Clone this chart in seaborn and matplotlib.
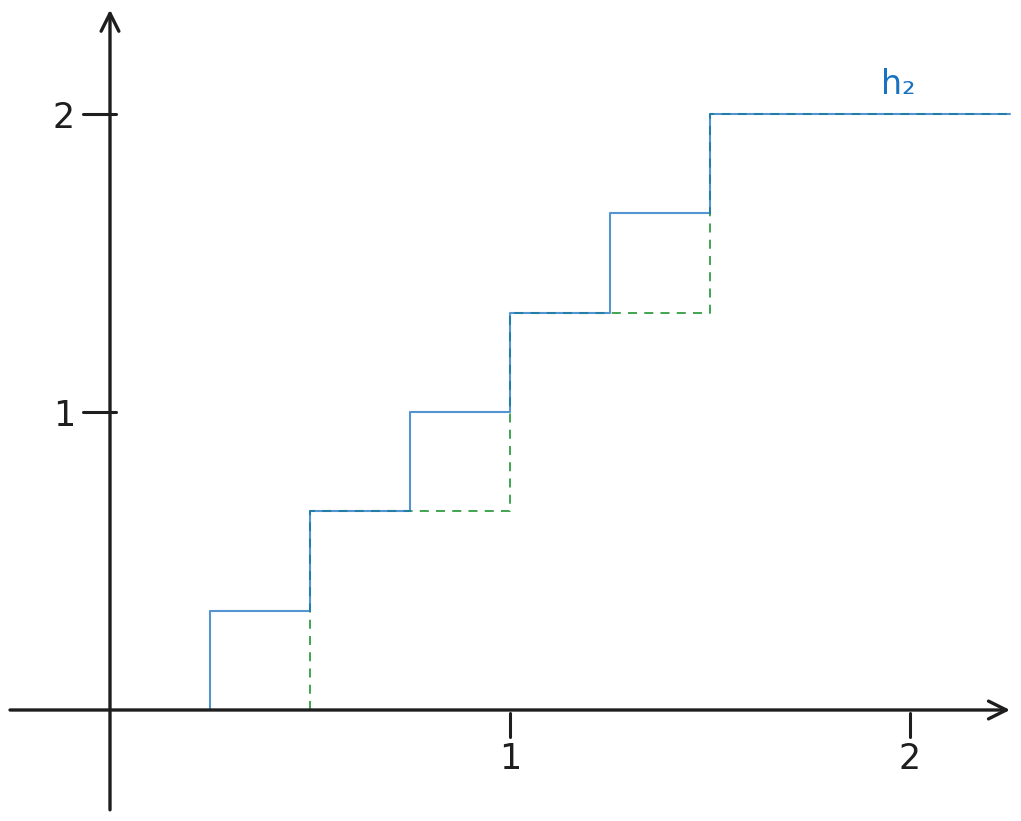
import numpy as np
import pandas as pd
import matplotlib
matplotlib.use("Agg")
import matplotlib.pyplot as plt
import seaborn as sns

# step function h2 (blue) and the coarser dashed step (green)
h2_x = [0, 0.25, 0.5, 0.75, 1.0, 1.25, 1.5, 2.25]
h2_y = [0, 1 / 3, 2 / 3, 1.0, 4 / 3, 5 / 3, 2.0, 2.0]
coarse_x = [0.5, 0.5, 1.0, 1.5, 2.25]
coarse_y = [0, 2 / 3, 4 / 3, 2.0, 2.0]

x_ticks = [1, 2]
y_ticks = [1, 2]
curve_label = "h₂"

BLUE = "#1971c2"
GREEN = "#2f9e44"
INK = "#1e1e1e"

sns.set_theme(style="white")
plt.rcParams['font.family'] = ['DejaVu Sans']

fig = plt.figure(figsize=(10.21, 8.21), dpi=100)
ax = fig.add_axes([0, 0, 1, 1])
ax.set_xlim(-0.275, 2.2775)
ax.set_ylim(-0.3725, 2.3826)
ax.axis("off")

# axes with arrows
arrow = dict(arrowstyle="->", lw=2.4, color=INK, mutation_scale=32, shrinkA=0, shrinkB=0)
ax.annotate("", xy=(2.25, 0), xytext=(-0.25, 0), arrowprops=arrow)
ax.annotate("", xy=(0, 2.35), xytext=(0, -0.335), arrowprops=arrow)

# hand-drawn style ticks
for t in y_ticks:
    ax.plot([-0.068, 0.015], [t, t], color=INK, lw=2.2, solid_capstyle="round")
    ax.text(-0.115, t - 0.012, str(t), fontsize=25, color=INK, ha="center", va="center")
for t in x_ticks:
    ax.plot([t, t], [-0.01, -0.09], color=INK, lw=2.2, solid_capstyle="round")
    ax.text(t, -0.165, str(t), fontsize=25, color=INK, ha="center", va="center")

df_h2 = pd.DataFrame({"x": h2_x, "y": h2_y})
df_coarse = pd.DataFrame({"x": coarse_x, "y": coarse_y})

sns.lineplot(data=df_coarse, x="x", y="y", ax=ax, color=GREEN, lw=1.3,
             linestyle=(0, (5, 4)), drawstyle="steps-post",
             estimator=None, sort=False)
sns.lineplot(data=df_h2, x="x", y="y", ax=ax, color=BLUE, lw=1.5,
             drawstyle="steps-post", estimator=None, sort=False, alpha=0.75)

ax.text(1.97, 2.1, curve_label, fontsize=24, color=BLUE, ha="center", va="center")

fig.savefig("out.png", dpi=100)
